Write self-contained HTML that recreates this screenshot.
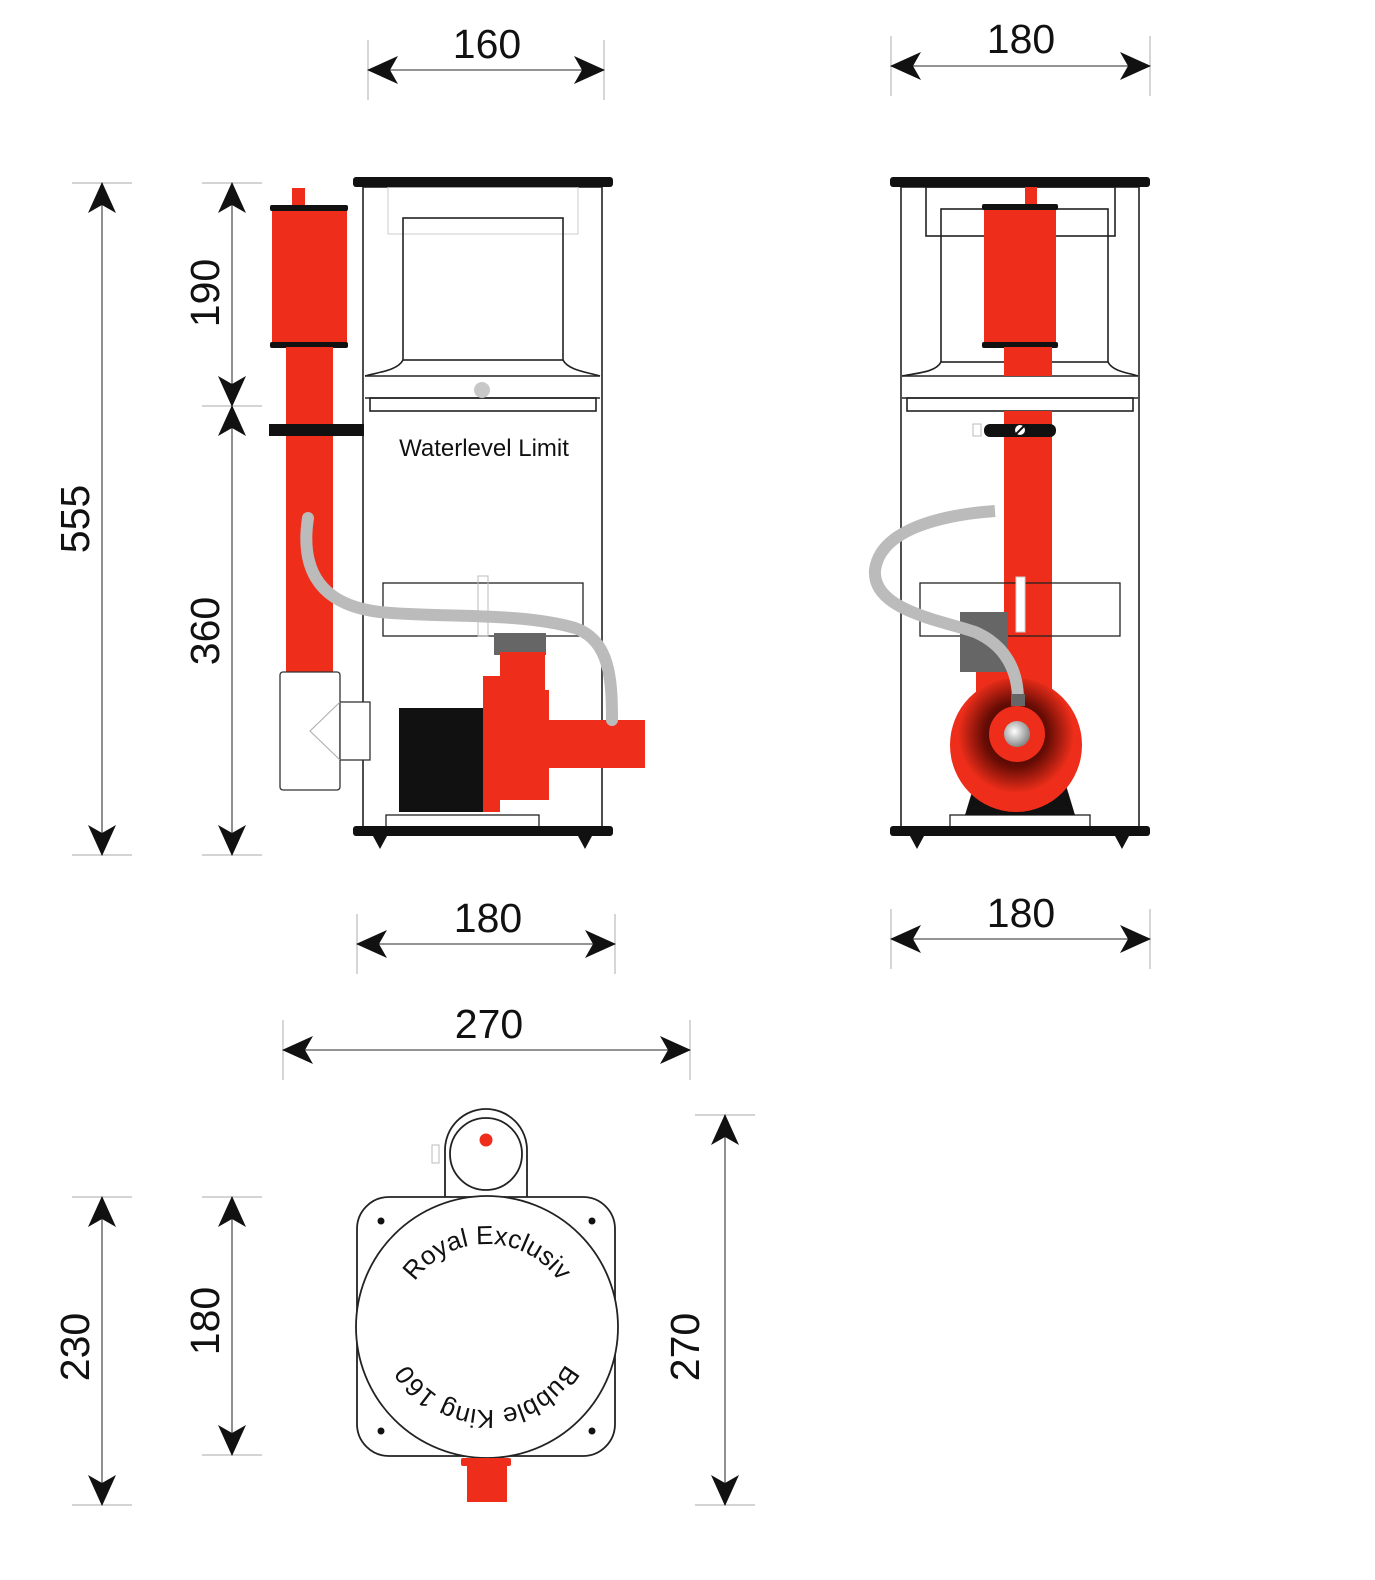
<!DOCTYPE html>
<html><head><meta charset="utf-8"><style>html,body{margin:0;padding:0;background:#fff}svg{display:block}</style></head>
<body>
<svg width="1375" height="1580" viewBox="0 0 1375 1580" xmlns="http://www.w3.org/2000/svg" font-family="Liberation Sans, sans-serif">
<defs>
<marker id="ar" markerUnits="userSpaceOnUse" markerWidth="34" markerHeight="30" refX="31" refY="15" orient="auto-start-reverse" viewBox="0 0 34 30">
<path d="M1,1 L32,15 L1,29 L9,15 Z" fill="#111"/>
</marker>
<radialGradient id="vol" cx="0.5" cy="0.42" r="0.55">
<stop offset="0" stop-color="#000"/><stop offset="0.45" stop-color="#6a0d05"/><stop offset="0.8" stop-color="#ee2e1a"/><stop offset="1" stop-color="#ee2e1a"/>
</radialGradient>
<radialGradient id="hole" cx="0.4" cy="0.4" r="0.6"><stop offset="0" stop-color="#fff"/><stop offset="1" stop-color="#888"/></radialGradient>
</defs>

<g stroke="#bbb" stroke-width="1.2" fill="none">
<line x1="368" y1="40" x2="368" y2="100"/><line x1="604" y1="40" x2="604" y2="100"/>
<line x1="891" y1="36" x2="891" y2="96"/><line x1="1150" y1="36" x2="1150" y2="96"/>
<line x1="72" y1="183" x2="132" y2="183"/><line x1="72" y1="855" x2="132" y2="855"/>
<line x1="202" y1="183" x2="262" y2="183"/><line x1="202" y1="406" x2="262" y2="406"/><line x1="202" y1="855" x2="262" y2="855"/>
<line x1="357" y1="914" x2="357" y2="974"/><line x1="615" y1="914" x2="615" y2="974"/>
<line x1="891" y1="909" x2="891" y2="969"/><line x1="1150" y1="909" x2="1150" y2="969"/>
<line x1="283" y1="1020" x2="283" y2="1080"/><line x1="690" y1="1020" x2="690" y2="1080"/>
<line x1="72" y1="1197" x2="132" y2="1197"/><line x1="72" y1="1505" x2="132" y2="1505"/>
<line x1="202" y1="1197" x2="262" y2="1197"/><line x1="202" y1="1455" x2="262" y2="1455"/>
<line x1="695" y1="1115" x2="755" y2="1115"/><line x1="695" y1="1505" x2="755" y2="1505"/>
</g>
<g stroke="#555" stroke-width="1.3" marker-start="url(#ar)" marker-end="url(#ar)">
<line x1="368" y1="70" x2="604" y2="70"/>
<line x1="891" y1="66" x2="1150" y2="66"/>
<line x1="102" y1="183" x2="102" y2="855"/>
<line x1="232" y1="183" x2="232" y2="406"/>
<line x1="232" y1="406" x2="232" y2="855"/>
<line x1="357" y1="944" x2="615" y2="944"/>
<line x1="891" y1="939" x2="1150" y2="939"/>
<line x1="283" y1="1050" x2="690" y2="1050"/>
<line x1="102" y1="1197" x2="102" y2="1505"/>
<line x1="232" y1="1197" x2="232" y2="1455"/>
<line x1="725" y1="1115" x2="725" y2="1505"/>
</g>
<g font-size="41" fill="#111" text-anchor="middle">
<text x="487" y="58">160</text>
<text x="1021" y="53">180</text>
<text x="488" y="932">180</text>
<text x="1021" y="927">180</text>
<text x="489" y="1038">270</text>
<text transform="translate(89,519) rotate(-90)">555</text>
<text transform="translate(219,293) rotate(-90)">190</text>
<text transform="translate(219,631) rotate(-90)">360</text>
<text transform="translate(89,1347) rotate(-90)">230</text>
<text transform="translate(219,1321) rotate(-90)">180</text>
<text transform="translate(699,1347) rotate(-90)">270</text>
</g>

<g stroke="#222" stroke-width="1.6" fill="none">
<rect x="363" y="187" width="239" height="640" fill="#fff"/>
<rect x="388" y="187" width="190" height="47" stroke="#ccc" stroke-width="1"/>
<rect x="403" y="218" width="160" height="142"/>
<path d="M403,360 C398,370 380,372 365,376 M563,360 C568,370 586,372 600,376"/>
<line x1="365" y1="376" x2="600" y2="376"/>
<line x1="365" y1="398" x2="600" y2="398"/>
<rect x="370" y="398" width="226" height="13"/>
<rect x="383" y="583" width="200" height="53" stroke-width="1.3"/>
<rect x="386" y="815" width="153" height="12" stroke-width="1.3"/>
</g>
<circle cx="482" cy="390" r="8" fill="#c8c8c8"/>
<rect x="353" y="177" width="260" height="10" rx="3" fill="#111"/>
<rect x="353" y="826" width="260" height="10" rx="3" fill="#111"/>
<path d="M373,836 L387,836 L380,849 Z M578,836 L592,836 L585,849 Z" fill="#111"/>
<rect x="292" y="188" width="13" height="20" fill="#ee2e1a"/>
<rect x="272" y="207" width="75" height="140" fill="#ee2e1a"/>
<rect x="270" y="205" width="78" height="6" rx="2" fill="#111"/>
<rect x="270" y="342" width="78" height="6" rx="2" fill="#111"/>
<rect x="286" y="347" width="47" height="327" fill="#ee2e1a"/>
<rect x="269" y="424" width="95" height="12" fill="#111"/>
<g stroke="#333" stroke-width="1.3" fill="#fff">
<rect x="280" y="672" width="60" height="118" rx="3"/>
<rect x="340" y="702" width="30" height="58"/>
</g>
<path d="M340,702 L310,731 L340,760" stroke="#aaa" fill="none"/>
<text x="484" y="456" font-size="24" text-anchor="middle" fill="#111">Waterlevel Limit</text>
<rect x="478" y="576" width="10" height="60" fill="none" stroke="#bbb" stroke-width="1"/>
<rect x="494" y="633" width="52" height="22" fill="#666"/>
<rect x="399" y="708" width="88" height="104" fill="#111"/>
<path d="M500,652 L545,652 L545,690 L549,690 L549,720 L645,720 L645,768 L549,768 L549,800 L500,800 L500,812 L483,812 L483,676 L500,676 Z" fill="#ee2e1a"/>
<path d="M308,518 C300,570 320,605 380,612 C440,618 520,612 575,628 C610,640 612,680 612,720" stroke="#bbb" stroke-width="12" fill="none" stroke-linecap="round"/>

<g stroke="#222" stroke-width="1.6" fill="none">
<rect x="901" y="187" width="238" height="640" fill="#fff"/>
<rect x="926" y="187" width="189" height="49"/>
<rect x="941" y="209" width="167" height="153"/>
<path d="M941,362 C936,372 918,373 902,376 M1108,362 C1113,372 1130,373 1138,376"/>
<line x1="902" y1="376" x2="1138" y2="376"/>
<line x1="902" y1="398" x2="1138" y2="398"/>
<rect x="907" y="398" width="226" height="13"/>
<rect x="950" y="815" width="140" height="12" stroke-width="1.3"/>
</g>
<rect x="1025" y="187" width="12" height="22" fill="#ee2e1a"/>
<rect x="984" y="206" width="72" height="141" fill="#ee2e1a"/>
<rect x="982" y="204" width="76" height="6" rx="2" fill="#111"/>
<rect x="982" y="342" width="76" height="6" rx="2" fill="#111"/>
<rect x="1004" y="347" width="48" height="29" fill="#ee2e1a"/>
<rect x="1004" y="411" width="48" height="300" fill="#ee2e1a"/>
<rect x="984" y="424" width="72" height="13" rx="6" fill="#111"/>
<circle cx="1020" cy="430" r="5" fill="#fff"/><line x1="1016" y1="434" x2="1024" y2="426" stroke="#111" stroke-width="2"/>
<rect x="973" y="424" width="8" height="12" fill="none" stroke="#bbb" stroke-width="1"/>
<rect x="920" y="583" width="200" height="53" fill="none" stroke="#222" stroke-width="1.3"/>
<rect x="1016" y="577" width="9" height="55" fill="#fff" stroke="#ccc"/>
<rect x="976" y="670" width="74" height="80" fill="#ee2e1a"/>
<path d="M975,782 L1065,782 L1075,815 L965,815 Z" fill="#111"/>
<ellipse cx="1016" cy="745" rx="66" ry="67" fill="url(#vol)"/>
<rect x="960" y="612" width="48" height="60" fill="#666"/>
<circle cx="1017" cy="734" r="28" fill="#ee2e1a"/>
<circle cx="1017" cy="734" r="13" fill="url(#hole)"/>
<path d="M995,511 C940,515 880,530 875,570 C872,610 940,620 975,632 C1005,645 1018,670 1018,700" stroke="#bbb" stroke-width="12" fill="none"/>
<rect x="1011" y="694" width="14" height="12" fill="#666"/>
<rect x="890" y="177" width="260" height="10" rx="3" fill="#111"/>
<rect x="890" y="826" width="260" height="10" rx="3" fill="#111"/>
<path d="M910,836 L924,836 L917,849 Z M1115,836 L1129,836 L1122,849 Z" fill="#111"/>

<g stroke="#222" stroke-width="1.8" fill="#fff">
<path d="M445,1197 L445,1150 A41,41 0 0 1 527,1150 L527,1197"/>
<rect x="357" y="1197" width="258" height="259" rx="32"/>
<circle cx="486" cy="1154" r="36"/>
<circle cx="487" cy="1327" r="131"/>
</g>
<rect x="432" y="1145" width="7" height="18" fill="none" stroke="#bbb" stroke-width="1"/>
<circle cx="486" cy="1140" r="6.5" fill="#ee2e1a"/>
<g fill="#111"><circle cx="381" cy="1221" r="3.5"/><circle cx="592" cy="1221" r="3.5"/><circle cx="381" cy="1431" r="3.5"/><circle cx="592" cy="1431" r="3.5"/></g>
<rect x="461" y="1458" width="50" height="8" rx="2" fill="#ee2e1a"/>
<rect x="467" y="1462" width="40" height="40" fill="#ee2e1a"/>
<path id="tp" d="M399,1332 A88,88 0 0 1 575,1332" fill="none"/>
<path id="bp" d="M577,1320 A90,90 0 0 1 397,1320" fill="none"/>
<text font-size="26" fill="#111"><textPath href="#tp" startOffset="50%" text-anchor="middle">Royal Exclusiv</textPath></text>
<text font-size="26" fill="#111"><textPath href="#bp" startOffset="50%" text-anchor="middle">Bubble  King 160</textPath></text>
</svg>
</body></html>
